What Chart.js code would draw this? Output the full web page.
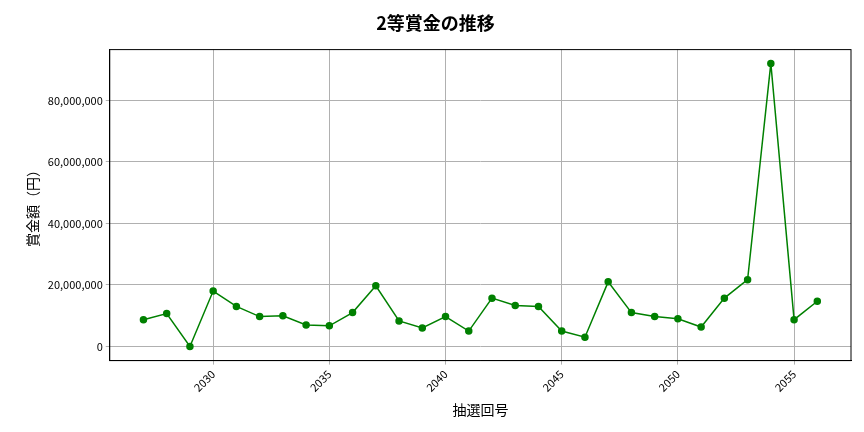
<!DOCTYPE html>
<html><head><meta charset="utf-8">
<script src="https://cdn.jsdelivr.net/npm/chart.js@4"></script>
<style>body{margin:0;background:#fff}#wrap{width:864px;height:432px}</style>
</head><body><div id="wrap"><canvas id="c"></canvas></div>
<script>
const draws = [2027,2028,2029,2030,2031,2032,2033,2034,2035,2036,2037,2038,2039,2040,2041,2042,2043,2044,2045,2046,2047,2048,2049,2050,2051,2052,2053,2054,2055,2056];
const prizes = [8.7,10.7,0,18,13,9.7,10,7,6.7,11,19.7,8.3,6,9.7,5,15.7,13.3,13,5,3,21,11,9.7,9,6.3,15.7,21.7,92,8.7,14.7].map(v => v * 1e6);
const xTicks = [2030,2035,2040,2045,2050,2055];
const yTicks = [0,20e6,40e6,60e6,80e6];
const font = "'Noto Sans CJK JP', 'Noto Sans', sans-serif";

// full frame around plot area
const frame = {
    id: 'frame',
    afterDraw(chart) {
        const { ctx, chartArea: a } = chart;
        ctx.save();
        ctx.strokeStyle = '#000';
        ctx.lineWidth = 1;
        ctx.strokeRect(a.left, a.top, a.right - a.left, a.bottom - a.top);
        ctx.restore();
    }
};

new Chart(document.getElementById('c'), {
    type: 'line',
    data: {
        datasets: [{
            data: draws.map((d, i) => ({ x: d, y: prizes[i] })),
            borderColor: '#008000',
            backgroundColor: '#008000',
            borderWidth: 1.5,
            pointRadius: 3,
            tension: 0
        }]
    },
    options: {
        animation: false,
        responsive: true,
        maintainAspectRatio: false,
        layout: { padding: { left: 20, right: 13, top: 8, bottom: 10 } },
        plugins: {
            legend: { display: false },
            title: { display: true, text: '2等賞金の推移', color: '#000', font: { family: font, size: 18, weight: 'bold' }, padding: { top: 4, bottom: 16 } }
        },
        scales: {
            x: {
                type: 'linear', min: 2025.55, max: 2057.45,
                afterBuildTicks: a => { a.ticks = xTicks.map(v => ({ value: v })); },
                ticks: { color: '#000', maxRotation: 45, minRotation: 45, font: { family: font, size: 11 }, callback: v => String(v) },
                grid: { color: '#b0b0b0', tickLength: 4 },
                border: { color: '#000' },
                title: { display: true, text: '抽選回号', color: '#000', font: { family: font, size: 14 } }
            },
            y: {
                min: -4.6e6, max: 96.5e6,
                afterBuildTicks: a => { a.ticks = yTicks.map(v => ({ value: v })); },
                ticks: { color: '#000', font: { family: font, size: 11 }, callback: v => v.toLocaleString('en-US') },
                grid: { color: '#b0b0b0', tickLength: 4 },
                border: { color: '#000' },
                title: { display: true, text: '賞金額（円）', color: '#000', font: { family: font, size: 14 } }
            }
        }
    },
    plugins: [frame]
});
</script></body></html>
